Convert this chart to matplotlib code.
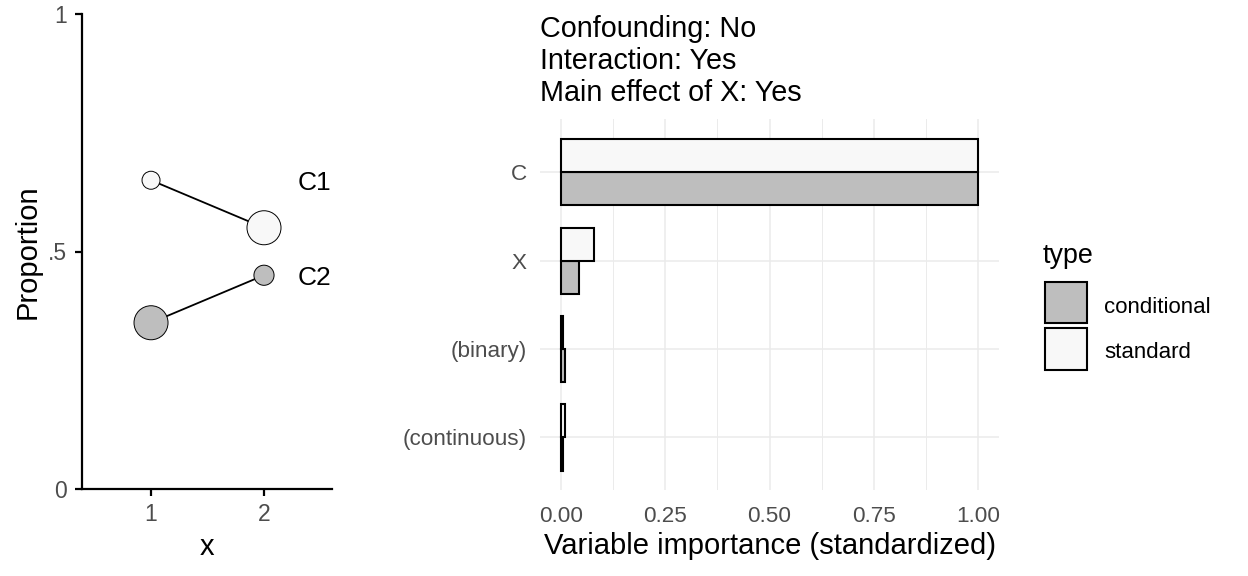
"""
Variable importance chart: group proportions on the left,
standardized importance (conditional vs standard) on the right.
"""

import numpy as np
import matplotlib
matplotlib.use("Agg")
import matplotlib.pyplot as plt
from matplotlib.patches import Rectangle
from matplotlib.ticker import MultipleLocator

# ── Data ───────────────────────────────────────────────────────────────────────

X_LEVELS   = [1, 2]
C1_PROP    = [0.65, 0.55]
C2_PROP    = [0.35, 0.45]
C1_WEIGHT  = [0.28, 1.00]     # relative group size (marker area)
C2_WEIGHT  = [1.00, 0.35]

VARIABLES    = ["C", "X", "(binary)", "(continuous)"]
STANDARD     = [1.000, 0.079, 0.004, 0.011]
CONDITIONAL  = [1.000, 0.044, 0.011, 0.006]

TITLE_LINES = ["Confounding: No", "Interaction: Yes", "Main effect of X: Yes"]

# ── Style ──────────────────────────────────────────────────────────────────────

W, H       = 1248, 576
GREY_FILL  = "#BEBEBE"
LIGHT_FILL = "#F8F8F8"
TICK_COL   = "#4D4D4D"
GRID_COL   = "#EBEBEB"
MAX_AREA   = 600

plt.rcParams["font.family"] = ["Liberation Sans", "DejaVu Sans"]


def fx(px):
    return px / W


def fy(py):
    return 1 - py / H


def px_rect(left, top, right, bottom):
    return [fx(left), fy(bottom), (right - left) / W, (bottom - top) / H]


# ── Left panel ────────────────────────────────────────────────────────────────

def plot_proportions(fig):
    ax = fig.add_axes(px_rect(82, 14, 332, 489))

    for props, weights, fill, name in [(C1_PROP, C1_WEIGHT, LIGHT_FILL, "C1"),
                                       (C2_PROP, C2_WEIGHT, GREY_FILL, "C2")]:
        ax.plot(X_LEVELS, props, color="black", linewidth=1.3, zorder=2)
        ax.scatter(X_LEVELS, props, s=np.array(weights) * MAX_AREA,
                   facecolor=fill, edgecolor="black", linewidth=0.7,
                   zorder=3, clip_on=False)
        # label sits at the group's highest proportion
        ax.text(X_LEVELS[-1] + 0.30, max(props) - 0.006, name,
                fontsize=19, ha="left", va="center", color="black")

    ax.set_xlim(0.389, 2.602)
    ax.set_ylim(0, 1)
    ax.set_xticks(X_LEVELS)
    ax.set_yticks([0, 0.5, 1])
    ax.set_yticklabels(["0", ".5", "1"])
    for side in ["top", "right"]:
        ax.spines[side].set_visible(False)
    for side in ["left", "bottom"]:
        ax.spines[side].set_linewidth(1.6)
        ax.spines[side].set_color("black")
    ax.tick_params(axis="both", length=5, width=1.6, color="black",
                   labelsize=16.5, labelcolor=TICK_COL)
    ax.tick_params(axis="x", pad=5)
    ax.tick_params(axis="y", pad=6)

    fig.text(fx(207), fy(555), "x", fontsize=21, ha="center", va="baseline")
    fig.text(fx(28), fy(251.5), "Proportion", fontsize=21, rotation=90,
             ha="center", va="center")


# ── Right panel ───────────────────────────────────────────────────────────────

def plot_importance(fig):
    ax = fig.add_axes(px_rect(540, 119.3, 999, 490.4))
    ypos = np.arange(len(VARIABLES))[::-1] + 1
    half = 0.375

    ax.barh(ypos - half / 2, CONDITIONAL, height=half, color=GREY_FILL,
            edgecolor="black", linewidth=1.5, zorder=3)
    ax.barh(ypos + half / 2, STANDARD, height=half, color=LIGHT_FILL,
            edgecolor="black", linewidth=1.5, zorder=3)

    ax.set_xlim(-0.05, 1.05)
    ax.set_ylim(0.4, len(VARIABLES) + 0.6)
    ax.set_yticks(ypos)
    ax.set_yticklabels(VARIABLES)
    ax.set_xticks([0, 0.25, 0.5, 0.75, 1.0])
    ax.set_xticklabels(["0.00", "0.25", "0.50", "0.75", "1.00"])
    ax.xaxis.set_minor_locator(MultipleLocator(0.125))

    for spine in ax.spines.values():
        spine.set_visible(False)
    ax.tick_params(axis="both", which="both", length=0,
                   labelsize=16.2, labelcolor=TICK_COL)
    ax.tick_params(axis="x", pad=11)
    ax.tick_params(axis="y", pad=9.5)

    ax.grid(which="major", color=GRID_COL, linewidth=1.1)
    ax.grid(which="minor", axis="x", color=GRID_COL, linewidth=0.7)
    ax.set_axisbelow(True)

    fig.text(fx(770), fy(554), "Variable importance (standardized)",
             fontsize=21, ha="center", va="baseline")

    for line, base in zip(TITLE_LINES, [37.3, 69.0, 100.7]):
        fig.text(fx(540), fy(base), line, fontsize=20.7,
                 ha="left", va="baseline")


# ── Legend ─────────────────────────────────────────────────────────────────────

def draw_legend(fig):
    fig.text(fx(1043), fy(263), "type", fontsize=19.4,
             ha="left", va="baseline")
    keys = [("conditional", GREY_FILL, 282, 323, 313),
            ("standard", LIGHT_FILL, 328, 370, 358.3)]
    for label, fill, top, bottom, base in keys:
        fig.add_artist(Rectangle((fx(1045), fy(bottom)), 42 / W,
                                 (bottom - top) / H,
                                 transform=fig.transFigure,
                                 facecolor=fill, edgecolor="black",
                                 linewidth=1.5))
        fig.text(fx(1104), fy(base), label, fontsize=16,
                 ha="left", va="baseline")


# ── Main ───────────────────────────────────────────────────────────────────────

def main():
    fig = plt.figure(figsize=(W / 100, H / 100), dpi=100)
    fig.patch.set_facecolor("white")
    plot_proportions(fig)
    plot_importance(fig)
    draw_legend(fig)
    fig.savefig("out.png", dpi=100)
    plt.close(fig)


if __name__ == "__main__":
    main()
